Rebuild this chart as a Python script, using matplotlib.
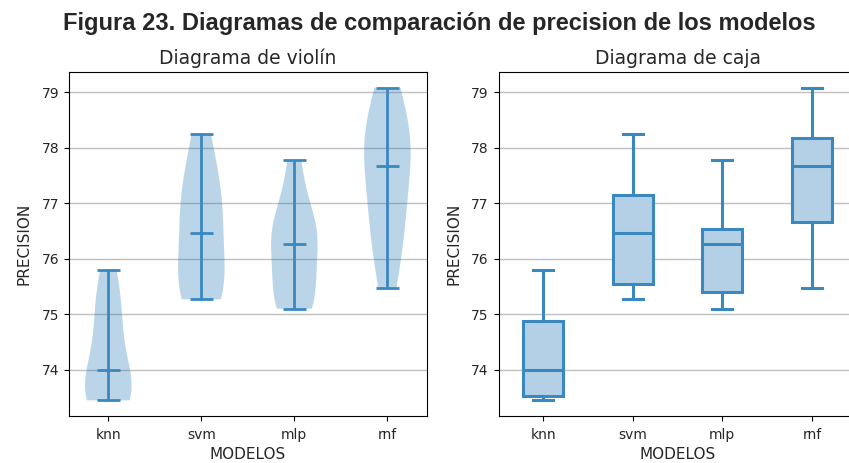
import numpy as np
import matplotlib
matplotlib.use("Agg")
import matplotlib.pyplot as plt

# precision por fold (10-fold CV) de cada modelo
modelos = ["knn", "svm", "mlp", "rnf"]
knn = [73.45, 73.48, 73.50, 73.58, 73.90, 74.10, 74.60, 74.97, 75.30, 75.80]
svm = [75.27, 75.40, 75.50, 75.70, 76.30, 76.64, 76.90, 77.23, 77.60, 78.25]
mlp = [75.10, 75.20, 75.35, 75.55, 76.20, 76.34, 76.45, 76.56, 77.00, 77.77]
rnf = [75.47, 76.20, 76.60, 76.88, 77.50, 77.84, 78.00, 78.23, 78.60, 79.08]
datos = [knn, svm, mlp, rnf]

azul = "#3a88c0"

fig, (ax1, ax2) = plt.subplots(1, 2, figsize=(8.49, 4.63), dpi=100)
fig.subplots_adjust(left=0.081, right=1.009, bottom=0.1015, top=0.8445, wspace=0.2)

fig.suptitle("Figura 23. Diagramas de comparación de precision de los modelos",
             fontsize=17, fontweight="bold", family="Liberation Sans",
             color="#262626", x=0.517, y=0.975)

# violines
vp = ax1.violinplot(datos, showmedians=True)
for body in vp["bodies"]:
    body.set_facecolor("#1f77b4")
    body.set_alpha(0.3)
for k in ("cmins", "cmaxes", "cbars", "cmedians"):
    vp[k].set_color(azul)
    vp[k].set_linewidth(2)
ax1.set_title("Diagrama de violín", fontsize=13.5, color="#262626")

# cajas
bp = ax2.boxplot(datos, patch_artist=True, widths=0.45,
                 boxprops=dict(facecolor="#b4d0e6", edgecolor=azul, linewidth=2.2),
                 whiskerprops=dict(color=azul, linewidth=2.2),
                 capprops=dict(color=azul, linewidth=2.2),
                 medianprops=dict(color=azul, linewidth=2.2))
ax2.set_title("Diagrama de caja", fontsize=13.5, color="#262626")

for ax in (ax1, ax2):
    ax.set_xticks(range(1, len(modelos) + 1))
    ax.set_xticklabels(modelos)
    ax.tick_params(labelcolor="#262626")
    ax.tick_params(axis="x", pad=5)
    ax.set_xlabel("MODELOS", fontsize=11, labelpad=4, color="#262626")
    ax.set_ylabel("PRECISION", fontsize=11, labelpad=7, color="#262626")
    ax.yaxis.grid(True, color="#c0c0c0", linewidth=1)
    ax.set_axisbelow(True)

fig.savefig("out.png", dpi=100)
